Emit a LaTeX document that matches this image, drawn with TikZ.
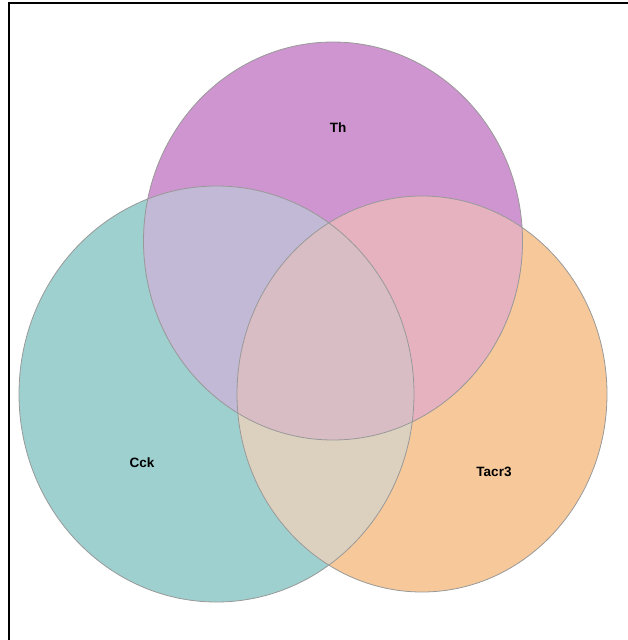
\documentclass[tikz,border=0pt]{standalone}
\usepackage{fontspec}
\setmainfont{Liberation Sans}

\definecolor{thcol}{HTML}{CF95D0}
\definecolor{cckcol}{HTML}{9DD0CF}
\definecolor{tacrcol}{HTML}{F6C89A}
\definecolor{thcck}{HTML}{C1B9D5}
\definecolor{thtacr}{HTML}{E6B2C0}
\definecolor{ccktacr}{HTML}{DCD1BF}
\definecolor{allthree}{HTML}{D9BDC5}

\tikzset{
  setline/.style={draw=gray!80, line width=0.8pt},
  setlabel/.style={font=\bfseries\fontsize{13.5}{16}\selectfont, text=black, inner sep=0pt}
}

\def\thset{(333,241) ellipse [x radius=189.5pt, y radius=199pt]}
\def\cckset{(216.5,394) ellipse [x radius=197.5pt, y radius=208pt]}
\def\tacrset{(422,394) ellipse [x radius=185pt, y radius=198pt]}

\begin{document}
\begin{tikzpicture}[x=1pt,y=-1pt]

  \useasboundingbox (0,0) rectangle (628,640);

  % Sets
  \fill[cckcol] \cckset;
  \fill[tacrcol] \tacrset;
  \fill[thcol] \thset;

  % Overlaps
  \begin{scope}
    \clip \thset;
    \fill[thcck] \cckset;
    \fill[thtacr] \tacrset;
  \end{scope}
  \begin{scope}
    \clip \cckset;
    \fill[ccktacr] \tacrset;
  \end{scope}
  \begin{scope}
    \clip \thset;
    \clip \cckset;
    \fill[allthree] \tacrset;
  \end{scope}

  % Outlines
  \draw[setline] \cckset;
  \draw[setline] \tacrset;
  \draw[setline] \thset;

  % Labels
  \node[setlabel] (th) at (338,128) {Th};
  \node[setlabel] (cck) at (142,463) {Cck};
  \node[setlabel] (tacr) at (494,472) {Tacr3};

  % Frame
  \draw[line width=2pt] (9,640) -- (9,3) -- (628,3);

\end{tikzpicture}
\end{document}
